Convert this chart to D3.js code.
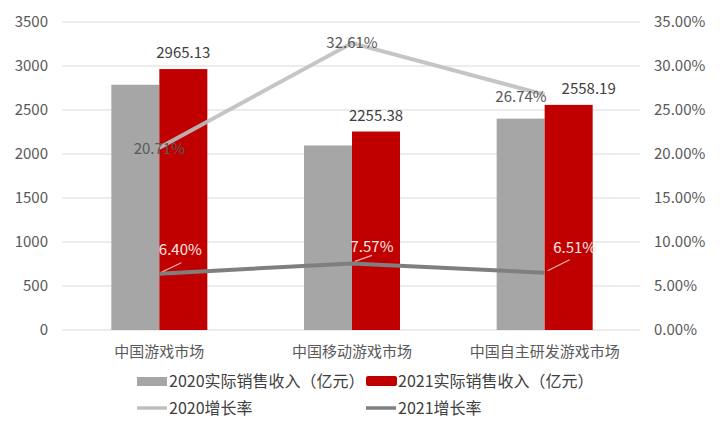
<!DOCTYPE html>
<html><head><meta charset="utf-8">
<script src="https://cdn.jsdelivr.net/npm/d3@7"></script>
<style>
html,body{margin:0;padding:0;background:#fff;}
text{font-family:"Noto Sans CJK SC","Noto Sans",sans-serif;}
</style></head>
<body><svg id="c" width="720" height="434"></svg>
<script>
const categories = ["中国游戏市场", "中国移动游戏市场", "中国自主研发游戏市场"];
const revenue2020 = [2786.87, 2096.76, 2401.92];
const revenue2021 = [2965.13, 2255.38, 2558.19];
const growth2020 = [20.71, 32.61, 26.74];
const growth2021 = [6.40, 7.57, 6.51];
const leftTicks = [0, 500, 1000, 1500, 2000, 2500, 3000, 3500];
const rightTicks = [0, 5, 10, 15, 20, 25, 30, 35];
const legendLabels = ["2020实际销售收入（亿元）", "2021实际销售收入（亿元）", "2020增长率", "2021增长率"];

const svg = d3.select("#c");
const L = 62, R = 640, T = 22, B = 330;
const x = d3.scaleBand().domain(categories).range([L, R]).paddingInner(0).paddingOuter(0);
const xs = d3.scaleBand().domain(["a", "b"]).range([0, 96]);
const yL = d3.scaleLinear().domain([0, 3500]).range([B, T]);
const yR = d3.scaleLinear().domain([0, 35]).range([B, T]);
const cx = c => x(c) + x.bandwidth() / 2 + 1;
const gridColor = "#d9d9d9", tickColor = "#595959";
const numFont = "Liberation Sans, Arial, sans-serif";

// gridlines
svg.append("g").selectAll("line").data(leftTicks).join("line")
  .attr("x1", L).attr("x2", R).attr("y1", d => yL(d)).attr("y2", d => yL(d))
  .attr("stroke", gridColor).attr("stroke-width", 1);

// left axis
const axL = svg.append("g").attr("transform", `translate(${L},0)`)
  .call(d3.axisLeft(yL).tickValues(leftTicks).tickSize(0).tickPadding(14).tickFormat(d3.format("d")));
axL.select(".domain").remove();
axL.selectAll("text").attr("font-size", 15).attr("fill", tickColor).attr("font-family", numFont);

// right axis
const axR = svg.append("g").attr("transform", `translate(${R},0)`)
  .call(d3.axisRight(yR).tickValues(rightTicks).tickSize(0).tickPadding(14).tickFormat(d => d.toFixed(2) + "%"));
axR.select(".domain").remove();
axR.selectAll("text").attr("font-size", 15).attr("fill", tickColor).attr("font-family", numFont);

// bars
const g = svg.append("g");
g.selectAll("rect.b20").data(categories).join("rect").attr("class", "b20")
  .attr("x", c => cx(c) - xs.bandwidth()).attr("width", xs.bandwidth())
  .attr("y", (c, i) => yL(revenue2020[i])).attr("height", (c, i) => B - yL(revenue2020[i]))
  .attr("fill", "#a6a6a6");
g.selectAll("rect.b21").data(categories).join("rect").attr("class", "b21")
  .attr("x", c => cx(c)).attr("width", xs.bandwidth())
  .attr("y", (c, i) => yL(revenue2021[i])).attr("height", (c, i) => B - yL(revenue2021[i]))
  .attr("fill", "#c00000");

// bar labels
const barLabDx = [0, 0, 20];
g.selectAll("text.l21").data(categories).join("text").attr("class", "l21")
  .attr("x", (c, i) => cx(c) + xs.bandwidth() / 2 + barLabDx[i]).attr("y", (c, i) => yL(revenue2021[i]) - 11)
  .attr("text-anchor", "middle").attr("font-size", 15).attr("fill", "#404040")
  .attr("font-family", numFont)
  .text((c, i) => revenue2021[i].toFixed(2));

// lines
const line = arr => d3.line().x((d, i) => cx(categories[i])).y(d => yR(d))(arr);
svg.append("path").attr("d", line(growth2020)).attr("fill", "none")
  .attr("stroke", "#bfbfbf").attr("stroke-width", 4).attr("opacity", 0.9);
svg.append("path").attr("d", line(growth2021)).attr("fill", "none")
  .attr("stroke", "#7f7f7f").attr("stroke-width", 4);

// 2020 growth labels
const lab20 = [{dx: 0, dy: 6, anchor: "middle"}, {dx: 0, dy: 5, anchor: "middle"}, {dx: 2, dy: 7, anchor: "end"}];
svg.append("g").selectAll("text").data(growth2020).join("text")
  .attr("x", (d, i) => cx(categories[i]) + lab20[i].dx).attr("y", (d, i) => yR(d) + lab20[i].dy)
  .attr("text-anchor", (d, i) => lab20[i].anchor).attr("font-size", 15).attr("fill", "#595959")
  .attr("font-family", numFont)
  .text(d => d.toFixed(2) + "%");

// 2021 growth labels with leader lines
const lab21 = [{lx: 22, ly: -11, tx: 21, ty: -19}, {lx: 20, ly: -8, tx: 20, ty: -11}, {lx: 25, ly: -13, tx: 30, ty: -20}];
const gl = svg.append("g");
gl.selectAll("line").data(growth2021).join("line")
  .attr("x1", (d, i) => cx(categories[i]) + 3).attr("y1", (d, i) => yR(d) - 2)
  .attr("x2", (d, i) => cx(categories[i]) + lab21[i].lx).attr("y2", (d, i) => yR(d) + lab21[i].ly)
  .attr("stroke", "#f4b6a6").attr("stroke-width", 1.2);
gl.selectAll("text").data(growth2021).join("text")
  .attr("x", (d, i) => cx(categories[i]) + lab21[i].tx).attr("y", (d, i) => yR(d) + lab21[i].ty)
  .attr("text-anchor", "middle").attr("font-size", 15).attr("fill", "#fde8e4")
  .attr("font-family", numFont)
  .text(d => d.toFixed(2) + "%");

// category labels
svg.append("g").selectAll("text").data(categories).join("text")
  .attr("x", c => cx(c)).attr("y", 357).attr("text-anchor", "middle")
  .attr("font-size", 15).attr("fill", tickColor).text(c => c);

// legend
const lg = svg.append("g");
const lpos = [{x: 137, y: 381}, {x: 366, y: 381}, {x: 137, y: 408}, {x: 366, y: 408}];
lg.append("rect").attr("x", lpos[0].x).attr("y", lpos[0].y - 4).attr("width", 30).attr("height", 9).attr("fill", "#a6a6a6");
lg.append("rect").attr("x", lpos[1].x).attr("y", lpos[1].y - 5).attr("width", 31).attr("height", 10).attr("rx", 2).attr("fill", "#c00000");
lg.append("line").attr("x1", lpos[2].x).attr("x2", lpos[2].x + 30).attr("y1", lpos[2].y).attr("y2", lpos[2].y).attr("stroke", "#bfbfbf").attr("stroke-width", 3.5);
lg.append("line").attr("x1", lpos[3].x).attr("x2", lpos[3].x + 30).attr("y1", lpos[3].y).attr("y2", lpos[3].y).attr("stroke", "#7f7f7f").attr("stroke-width", 3.5);
lg.selectAll("text").data(legendLabels).join("text")
  .attr("x", (d, i) => lpos[i].x + 32).attr("y", (d, i) => lpos[i].y + 6)
  .attr("font-size", 16).attr("fill", "#404040").text(d => d);
</script></body></html>
